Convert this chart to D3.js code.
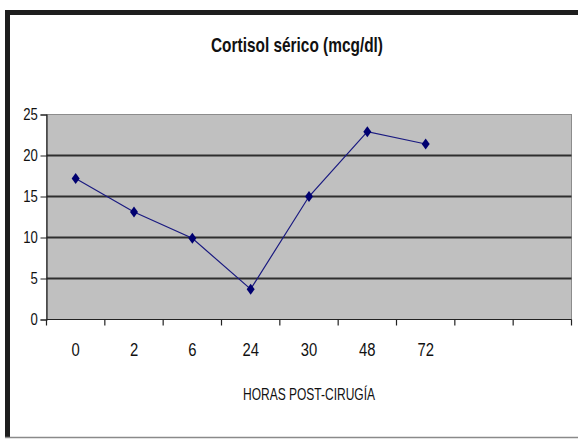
<!DOCTYPE html>
<html>
<head>
<meta charset="utf-8">
<script src="https://cdn.jsdelivr.net/npm/d3@7"></script>
<style>
  html, body { margin: 0; padding: 0; background: #ffffff; overflow: hidden; }
  svg { display: block; }
  text { font-family: "Liberation Sans Narrow", "Arial Narrow", "Liberation Sans", Arial, sans-serif; fill: #111; }
</style>
</head>
<body>
<svg id="chart" width="578" height="439"></svg>
<script>
// ---- data ----
const categories = ["0", "2", "6", "24", "30", "48", "72"];
const emptySlots = ["_e1", "_e2"];
const values = [17.2, 13.1, 9.9, 3.7, 15.0, 22.9, 21.4];
const yTicks = [0, 5, 10, 15, 20, 25];
const chartTitle = "Cortisol sérico (mcg/dl)";
const xTitle = "HORAS POST-CIRUGÍA";

const W = 578, H = 439;
const svg = d3.select("#chart");

svg.append("rect").attr("x", 0).attr("y", 0).attr("width", W).attr("height", H).attr("fill", "#fff");

// frame (top and left thick dark, bottom thin gray)
svg.append("line").attr("x1", 5).attr("x2", W).attr("y1", 12.5).attr("y2", 12.5)
  .attr("stroke", "#1e1e1e").attr("stroke-width", 5);
svg.append("line").attr("x1", 7.5).attr("x2", 7.5).attr("y1", 10).attr("y2", 438)
  .attr("stroke", "#1e1e1e").attr("stroke-width", 5);
svg.append("line").attr("x1", 5).attr("x2", W).attr("y1", 437.5).attr("y2", 437.5)
  .attr("stroke", "#8a8a8a").attr("stroke-width", 1.5);

const plot = { left: 46.5, right: 571.5, top: 114.5, bottom: 319.5 };

const x = d3.scaleBand().domain(categories.concat(emptySlots)).range([plot.left, plot.right]).padding(0);
const y = d3.scaleLinear().domain([0, 25]).range([plot.bottom, plot.top]);

// plot background
svg.append("rect").attr("x", plot.left).attr("y", plot.top)
  .attr("width", plot.right - plot.left).attr("height", plot.bottom - plot.top)
  .attr("fill", "#c0c0c0").attr("stroke", "#8c8c8c").attr("stroke-width", 1);

// gridlines
svg.append("g").selectAll("line").data(yTicks.filter(d => d > 0 && d < 25)).join("line")
  .attr("x1", plot.left).attr("x2", plot.right)
  .attr("y1", d => y(d)).attr("y2", d => y(d))
  .attr("stroke", "#2e2e2e").attr("stroke-width", 2);

// y axis
const yAxis = svg.append("g").attr("transform", `translate(${plot.left},0)`)
  .call(d3.axisLeft(y).tickValues(yTicks).tickSize(6).tickPadding(3));
yAxis.select(".domain").attr("stroke", "#222").attr("stroke-width", 1.2);
yAxis.selectAll(".tick line").attr("stroke", "#222");
yAxis.selectAll("text").style("font-size", "16px").style("font-family", null)
  .attr("fill", "#222").attr("transform", "scale(0.82,1)").attr("x", -10.5);

// x axis: line + ticks at category boundaries
const xAxisG = svg.append("g").attr("transform", `translate(0,${plot.bottom})`);
xAxisG.append("line").attr("x1", plot.left).attr("x2", plot.right).attr("y1", 0).attr("y2", 0)
  .attr("stroke", "#222").attr("stroke-width", 1.2);
const boundaries = x.domain().map(d => x(d)).concat([x.range()[1]]);
xAxisG.selectAll("line.tk").data(boundaries).join("line").attr("class", "tk")
  .attr("x1", d => d).attr("x2", d => d).attr("y1", 0).attr("y2", 6)
  .attr("stroke", "#222").attr("stroke-width", 1.2);

// x labels at centers
const xLab = svg.append("g").attr("transform", `translate(0,${plot.bottom})`)
  .call(d3.axisBottom(x).tickSize(0).tickPadding(23)
    .tickFormat(d => categories.includes(d) ? d : ""));
xLab.select(".domain").remove();
xLab.selectAll("text").style("font-size", "19px").style("font-family", null).attr("fill", "#222")
  .attr("transform", "scale(0.78,1)");

// line + markers
const pts = categories.map((c, i) => ({ c, v: values[i] }));
svg.append("path").datum(pts)
  .attr("fill", "none").attr("stroke", "#1a1a80").attr("stroke-width", 1.2)
  .attr("d", d3.line().x(d => x(d.c) + x.bandwidth() / 2).y(d => y(d.v)));

svg.append("g").selectAll("path").data(pts).join("path")
  .attr("transform", d => `translate(${x(d.c) + x.bandwidth() / 2},${y(d.v)})`)
  .attr("d", "M0,-5.5L4,0L0,5.5L-4,0Z")
  .attr("fill", "#000070");

// titles
svg.append("text").attr("x", 297).attr("y", 52).attr("text-anchor", "middle")
  .style("font-size", "21px").style("font-weight", "bold")
  .attr("textLength", 172).attr("lengthAdjust", "spacingAndGlyphs")
  .text(chartTitle);

svg.append("text").attr("x", 309).attr("y", 400).attr("text-anchor", "middle")
  .style("font-size", "17px").attr("fill", "#222")
  .attr("textLength", 132).attr("lengthAdjust", "spacingAndGlyphs")
  .text(xTitle);

// keep the right margin clean (frame continues off-page)
svg.append("rect").attr("x", 573).attr("y", 15).attr("width", 5).attr("height", 421).attr("fill", "#fff");
</script>
</body>
</html>
